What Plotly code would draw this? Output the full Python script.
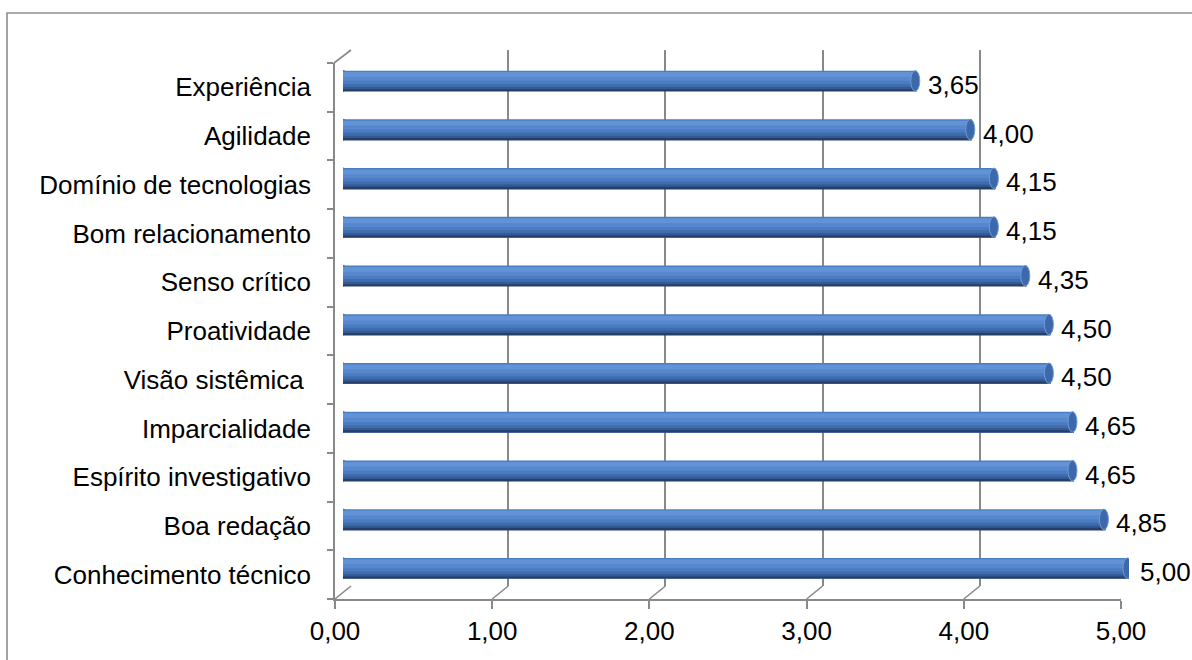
import plotly.graph_objects as go

# ---- data (bottom to top) ----
categories = ["Conhecimento técnico", "Boa redação", "Espírito investigativo",
              "Imparcialidade", "Visão sistêmica\u00a0", "Proatividade", "Senso crítico",
              "Bom relacionamento", "Domínio de tecnologias", "Agilidade", "Experiência"]
values = [5.00, 4.85, 4.65, 4.65, 4.50, 4.50, 4.35, 4.15, 4.15, 4.00, 3.65]
value_labels = ["5,00", "4,85", "4,65", "4,65", "4,50", "4,50", "4,35", "4,15", "4,15", "4,00", "3,65"]
x_tickvals = [0, 1, 2, 3, 4, 5]
x_ticktext = ["0,00", "1,00", "2,00", "3,00", "4,00", "5,00"]

W, H = 1192, 660
FONT = "Liberation Sans, Arial, sans-serif"
FS = 26
GRAY = "#898989"


def fx(p):
    return p / W


def fy(p):
    return 1 - p / H


# pixel frames: back wall, mid (bars), front axes
BACK = (351, 1137, 50, 586)
MID = (343, 1129, 56.5, 592.5)
FRONT = (335, 1121, 63, 599)

fig = go.Figure()

n = len(categories)
idx = list(range(n))

# cylinder shading: each layer covers from its top fraction down to the bar bottom
BW = 0.42
bands = [
    (0.00, "#4A7DC2"),
    (0.07, "#6293D7"),
    (0.30, "#5788CE"),
    (0.50, "#4B7BC0"),
    (0.66, "#3F6CAD"),
    (0.80, "#335A93"),
    (0.91, "#263F68"),
]
for f0, col in bands:
    fig.add_trace(go.Bar(
        x=values, y=idx, orientation="h",
        width=BW * (1 - f0), offset=-BW / 2,
        marker=dict(color=col, line=dict(width=0)),
        xaxis="x2", yaxis="y2", hoverinfo="skip", showlegend=False,
    ))

# dummy traces to create the back-wall and front-axis subplots
fig.add_trace(go.Scatter(x=[0, 5], y=[0, 1], mode="markers", marker=dict(opacity=0),
                         xaxis="x", yaxis="y", hoverinfo="skip", showlegend=False))
fig.add_trace(go.Scatter(x=[0], y=[categories[0]], mode="markers", marker=dict(opacity=0),
                         xaxis="x3", yaxis="y3", hoverinfo="skip", showlegend=False))

shapes = []
# end caps
for i, v in enumerate(values):
    shapes.append(dict(type="circle", xref="x2", yref="y2", xsizemode="pixel", xanchor=v,
                       x0=-6, x1=3, y0=i - BW / 2, y1=i + BW / 2,
                       fillcolor="#3D69AB", line=dict(color="#6E9BD8", width=1), layer="above"))
    shapes.append(dict(type="circle", xref="x2", yref="y2", xsizemode="pixel", xanchor=0,
                       x0=-4, x1=5, y0=i - BW / 2, y1=i + BW / 2,
                       fillcolor="#4F7FC2", line=dict(color="#35598F", width=1), layer="below"))

# floor diagonals at each x tick
dx = BACK[0] - FRONT[0]
for v in x_tickvals:
    shapes.append(dict(type="line", xref="x3", yref="paper", xsizemode="pixel", xanchor=v,
                       x0=0, x1=dx, y0=fy(FRONT[3]), y1=fy(BACK[3]),
                       line=dict(color=GRAY, width=1.6)))
# top-left diagonal
shapes.append(dict(type="line", xref="paper", yref="paper",
                   x0=fx(FRONT[0] - 1), x1=fx(BACK[0]), y0=fy(FRONT[2]), y1=fy(BACK[2]),
                   line=dict(color=GRAY, width=1.6)))
# outer chart border
shapes.append(dict(type="rect", xref="paper", yref="paper",
                   x0=fx(7), x1=1.05, y0=-0.05, y1=fy(13),
                   line=dict(color="#8E8E8E", width=1.6), fillcolor="rgba(0,0,0,0)"))

annotations = []
for i, (v, t) in enumerate(zip(values, value_labels)):
    annotations.append(dict(x=v, y=i, xref="x2", yref="y2", text=t, showarrow=False,
                            xanchor="left", yanchor="middle", xshift=9, yshift=-4,
                            font=dict(family=FONT, size=FS, color="#000000")))

hidden = dict(showgrid=False, zeroline=False, showline=False, showticklabels=False,
              ticks="", automargin=False)

fig.update_layout(
    template="none",
    width=W, height=H, margin=dict(l=0, r=0, t=0, b=0, pad=0, autoexpand=False),
    paper_bgcolor="white", plot_bgcolor="rgba(0,0,0,0)",
    barmode="overlay", showlegend=False,
    font=dict(family=FONT, size=FS, color="#000000"),
    # back wall
    xaxis=dict(domain=[fx(BACK[0]), fx(BACK[1])], range=[0, 5], tickvals=x_tickvals,
               showgrid=True, gridcolor=GRAY, gridwidth=1.6, zeroline=False,
               showline=False, showticklabels=False, ticks="", anchor="y", automargin=False),
    yaxis=dict(domain=[fy(BACK[3]), fy(BACK[2])], range=[0, 1], anchor="x", **hidden),
    # bars
    xaxis2=dict(domain=[fx(MID[0]), fx(MID[1])], range=[0, 5], anchor="y2", **hidden),
    yaxis2=dict(domain=[fy(MID[3]), fy(MID[2])], range=[-0.5, n - 0.5], anchor="x2", **hidden),
    # front axes
    xaxis3=dict(domain=[fx(FRONT[0]), fx(FRONT[1])], range=[0, 5], anchor="y3",
                tickvals=x_tickvals, ticktext=x_ticktext, ticks="outside", ticklen=8,
                tickcolor=GRAY, tickwidth=1.6, showline=True, linecolor=GRAY, linewidth=1.6,
                showgrid=False, zeroline=False, tickfont=dict(size=FS), automargin=False),
    yaxis3=dict(domain=[fy(FRONT[3]), fy(FRONT[2])], range=[-0.5, n - 0.5], anchor="x3",
                type="category", categoryorder="array", categoryarray=categories,
                tickvals=categories, ticks="outside", ticklen=6, tickson="boundaries",
                tickcolor=GRAY, tickwidth=1.6, showline=True, linecolor=GRAY, linewidth=1.6,
                showgrid=False, zeroline=False, tickfont=dict(size=FS), ticklabelstandoff=17,
                automargin=False),
    shapes=shapes, annotations=annotations,
)

fig.write_html("out.html")
